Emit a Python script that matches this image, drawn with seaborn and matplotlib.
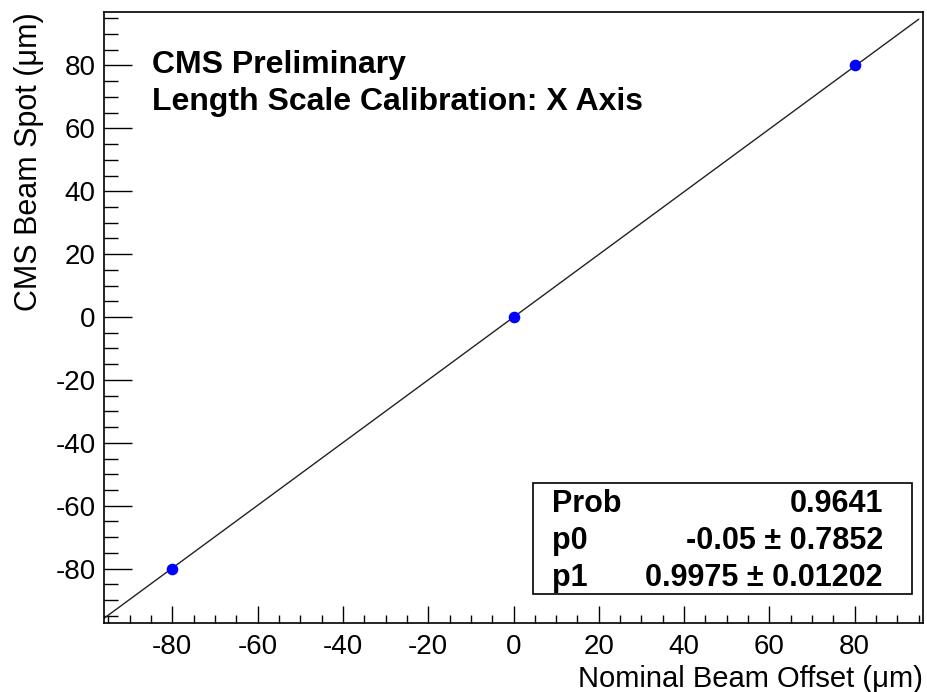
import numpy as np
import pandas as pd
import matplotlib
matplotlib.use("Agg")
import matplotlib.pyplot as plt
from matplotlib.ticker import MultipleLocator
from matplotlib.patches import Rectangle
import seaborn as sns

# Data
x_nominal = [-80, 0, 80]
y_measured = [-80, 0, 80]
fit_p0 = -0.05
fit_p1 = 0.9975
fit_range = [-96, 95]
stats_labels = ["Prob", "p0", "p1"]
stats_values = ["0.9641", "-0.05 \u00b1 0.7852", "0.9975 \u00b1 0.01202"]
xticks = [-80, -60, -40, -20, 0, 20, 40, 60, 80]
yticks = [-80, -60, -40, -20, 0, 20, 40, 60, 80]

sns.set_theme(style="white")
plt.rcParams['font.family'] = ['Liberation Sans', 'DejaVu Sans']
plt.rcParams['axes.unicode_minus'] = False
plt.rcParams['text.color'] = 'black'
plt.rcParams['axes.labelcolor'] = 'black'

W, H = 928, 692
fig = plt.figure(figsize=(W / 100, H / 100), dpi=100)
ax = fig.add_axes([104 / W, 1 - 623 / H, (923 - 104) / W, (623 - 12) / H])

df = pd.DataFrame({"x": x_nominal, "y": y_measured})
fx = np.array(fit_range, dtype=float)
fit_df = pd.DataFrame({"x": fx, "y": fit_p0 + fit_p1 * fx})
sns.lineplot(data=fit_df, x="x", y="y", ax=ax, color="#222222", linewidth=1.0)
sns.scatterplot(data=df, x="x", y="y", ax=ax, color="#0000ff", s=70,
                edgecolor="#0000ff", linewidth=0, zorder=5)

ax.set_xlim(-96, 96)
ax.set_ylim(-97.3, 97)
ax.set_xticks(xticks)
ax.set_yticks(yticks)
ax.xaxis.set_minor_locator(MultipleLocator(5))
ax.yaxis.set_minor_locator(MultipleLocator(5))
ax.tick_params(axis="both", which="both", direction="in", top=False, right=False,
               bottom=True, left=True, colors="black", width=1.0)
ax.tick_params(axis="x", which="major", length=12, labelsize=20, pad=8)
ax.tick_params(axis="x", which="minor", length=5.5)
ax.tick_params(axis="y", which="major", length=20, labelsize=20, pad=6)
ax.tick_params(axis="y", which="minor", length=10)
for s in ax.spines.values():
    s.set_color("black")
    s.set_linewidth(1.2)

ax.set_xlabel("Nominal Beam Offset (\u03bcm)", fontsize=21, ha="right")
ax.xaxis.set_label_coords(1.0, -0.092)
ax.xaxis.label.set_va("center")
ax.set_ylabel("CMS Beam Spot (\u03bcm)", fontsize=22, ha="right")
ax.yaxis.set_label_coords(-0.092, 1.0)
ax.yaxis.label.set_va("center")

def fx_(px):
    return px / W

def fy_(py):
    return 1 - py / H

fig.text(fx_(152), fy_(73), "CMS Preliminary", fontsize=23, fontweight="bold",
         va="baseline", ha="left")
fig.text(fx_(152), fy_(110), "Length Scale Calibration: X Axis", fontsize=23,
         fontweight="bold", va="baseline", ha="left")

box = Rectangle((fx_(533), fy_(594)), (912 - 533) / W, (594 - 483) / H,
                transform=fig.transFigure, facecolor="white", edgecolor="black",
                linewidth=1.2, zorder=10)
fig.patches.append(box)
rows_y = [512, 549, 586]
for lab, val, yy in zip(stats_labels, stats_values, rows_y):
    fig.text(fx_(552), fy_(yy), lab, fontsize=22, fontweight="bold",
             va="baseline", ha="left", zorder=11)
    fig.text(fx_(883), fy_(yy), val, fontsize=22, fontweight="bold",
             va="baseline", ha="right", zorder=11)

fig.savefig("out.png", dpi=100, facecolor="white")
